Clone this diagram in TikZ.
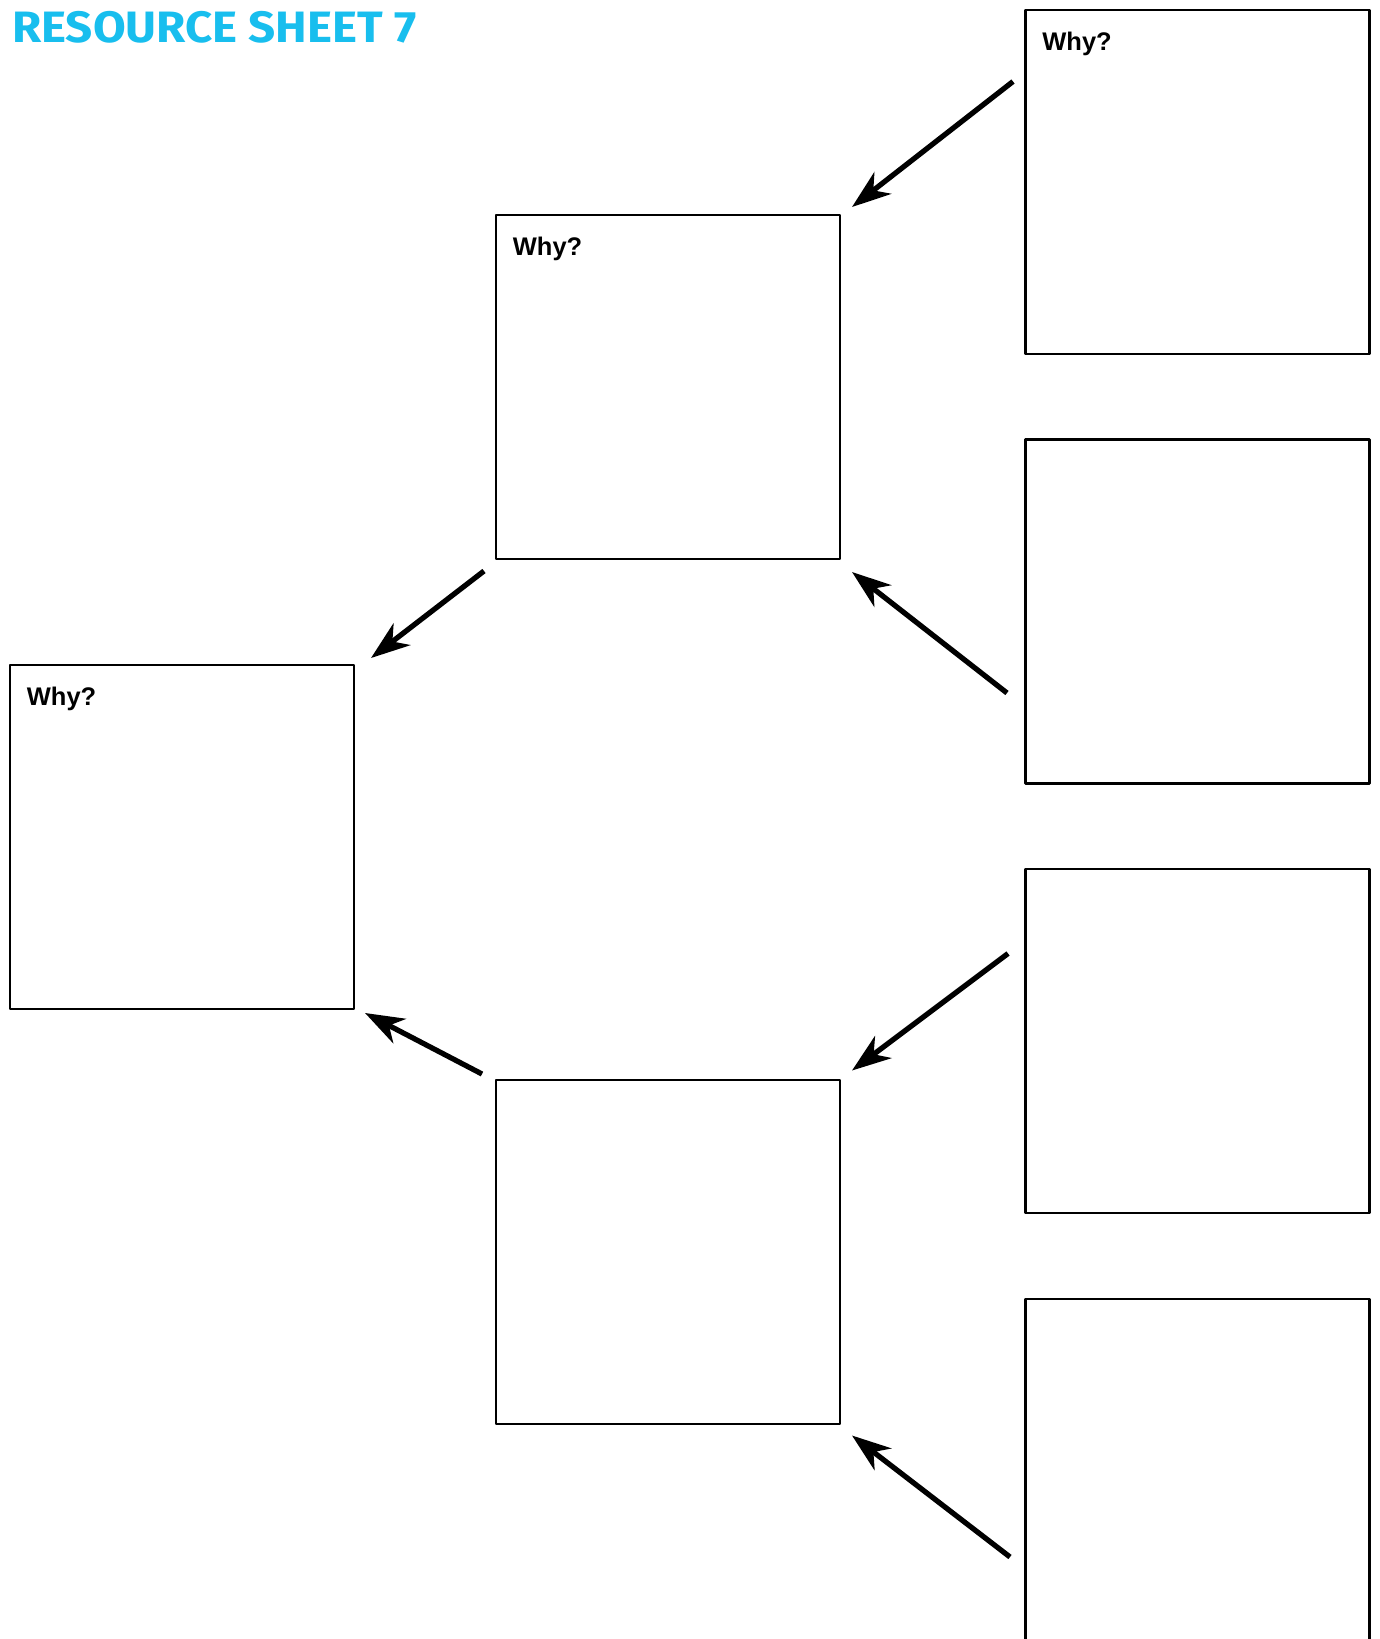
\documentclass[tikz,border=0pt]{standalone}
\usepackage{fontspec}
\setmainfont{Liberation Sans}
\newfontfamily\titlefont[FakeStretch=1.08]{Fira Sans}
\usetikzlibrary{arrows.meta,calc,positioning}
\definecolor{xanh}{RGB}{24,190,238}
\tikzset{
	hop/.style={draw,line width=1.5pt,minimum width=6.88cm,minimum height=6.88cm,inner sep=0pt},
	why/.style={anchor=base west,font=\bfseries\fontsize{14.5}{17}\selectfont},
	mui/.style={line width=3pt,-{Stealth[length=0.78cm,width=0.55cm,inset=0.24cm]}}
}
\begin{document}
\begin{tikzpicture}[x=0.02cm,y=-0.02cm,line join=round]
	\useasboundingbox (0,0) rectangle (1379,1639);
	\def \xp{1197.5} %cot phai
	\def \xm{668} %cot giua
	\def \xl{182} %cot trai
	\node[anchor=base west,text=xanh,font=\titlefont\bfseries\fontsize{25}{30}\selectfont] (tit) at (6,43) {RESOURCE SHEET 7};
	\node[hop] (r1) at (\xp,182) {};
	\node[hop] (r2) at (\xp,611.5) {};
	\node[hop] (r3) at (\xp,1041) {};
	\node[hop] (r4) at (\xp,1471) {};
	\node[hop] (m1) at (\xm,387) {};
	\node[hop] (m2) at (\xm,1252) {};
	\node[hop] (l1) at (\xl,837) {};
	\node[why] (w1) at ($(r1.north west)+(12,42)$) {Why?};
	\node[why] (w2) at ($(m1.north west)+(12,42)$) {Why?};
	\node[why] (w3) at ($(l1.north west)+(12,42)$) {Why?};
	\coordinate (a1) at (1013,81.5);
	\coordinate (b1) at (852,207);
	\coordinate (a2) at (484,571);
	\coordinate (b2) at (371,658);
	\coordinate (a3) at (1007,693);
	\coordinate (b3) at (852,572);
	\coordinate (a4) at (1008,953.5);
	\coordinate (b4) at (852,1070.5);
	\coordinate (a5) at (482,1074);
	\coordinate (b5) at (365,1013);
	\coordinate (a6) at (1010,1557);
	\coordinate (b6) at (852,1435.5);
	\foreach \i in {1,...,6}
		\draw[mui] (a\i)--(b\i);
\end{tikzpicture}
\end{document}
